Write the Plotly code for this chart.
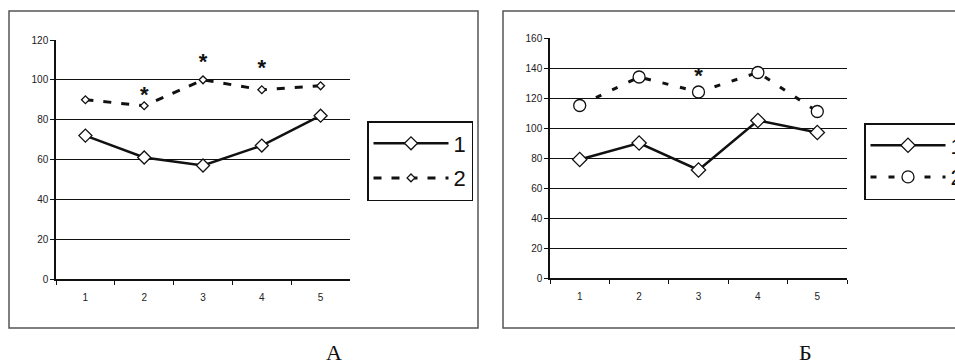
import plotly.graph_objects as go

categories = ["1", "2", "3", "4", "5"]

# Panel A
a_series1 = [72, 61, 57, 67, 82]
a_series2 = [90, 87, 100, 95, 97]
a_star_cats = ["2", "3", "4"]
a_star_vals = [91.5, 108, 105]

# Panel B
b_series1 = [79, 90, 72, 105, 97]
b_series2 = [115, 134, 124, 137, 111]
b_star_cats = ["3"]
b_star_vals = [134]

series_names = ["1", "2"]
panel_labels = ["А", "Б"]

W, H = 955, 360
def px(x):
    return x / W
def py(y):
    return 1 - y / H

fig = go.Figure()

black = "#111111"

# Panel A traces
fig.add_trace(go.Scatter(
    x=categories, y=a_series1, name=series_names[0], mode="lines+markers",
    line=dict(color=black, width=2.5),
    marker=dict(symbol="diamond", size=10, color="white", line=dict(color=black, width=1.3)),
    xaxis="x", yaxis="y", legend="legend", legendgroup="a1"))
fig.add_trace(go.Scatter(
    x=categories, y=a_series2, name=series_names[1], mode="lines+markers",
    line=dict(color=black, width=3, dash="8px,10px"),
    marker=dict(symbol="diamond", size=6, color="white", line=dict(color=black, width=1.3)),
    xaxis="x", yaxis="y", legend="legend", legendgroup="a2"))
fig.add_trace(go.Scatter(
    x=a_star_cats, y=a_star_vals, mode="text", text=["<b>*</b>"] * len(a_star_cats),
    textfont=dict(family="Liberation Sans", size=22, color=black),
    showlegend=False, xaxis="x", yaxis="y", hoverinfo="skip"))

# Panel B traces
fig.add_trace(go.Scatter(
    x=categories, y=b_series1, name=series_names[0], mode="lines+markers",
    line=dict(color=black, width=2.5),
    marker=dict(symbol="diamond", size=11, color="white", line=dict(color=black, width=1.3)),
    xaxis="x2", yaxis="y2", legend="legend2", legendgroup="b1"))
fig.add_trace(go.Scatter(
    x=categories, y=b_series2, name=series_names[1], mode="lines+markers",
    line=dict(color=black, width=3, dash="6px,12px"),
    marker=dict(symbol="circle", size=12, color="white", line=dict(color=black, width=1.3)),
    xaxis="x2", yaxis="y2", legend="legend2", legendgroup="b2"))
fig.add_trace(go.Scatter(
    x=b_star_cats, y=b_star_vals, mode="text", text=["<b>*</b>"] * len(b_star_cats),
    textfont=dict(family="Liberation Sans", size=22, color=black),
    showlegend=False, xaxis="x2", yaxis="y2", hoverinfo="skip"))

tickfont = dict(family="Liberation Sans", size=10, color="#222222")

def xaxis_cfg(x0, x1):
    return dict(
        domain=[px(x0), px(x1)], type="category", range=[-0.5, 4.5],
        tickson="boundaries", ticks="outside", ticklen=4, tickcolor=black,
        showgrid=False, showline=True, linecolor=black, linewidth=1.5,
        tickfont=tickfont, ticklabelstandoff=8, zeroline=False, fixedrange=True)

def yaxis_cfg(y_top, y_bot, ymax, anchor):
    return dict(
        domain=[py(y_bot), py(y_top)], range=[0, ymax], dtick=20,
        ticks="outside", ticklen=4, tickcolor=black,
        showgrid=True, gridcolor=black, gridwidth=1.2,
        showline=True, linecolor=black, linewidth=1.5,
        zeroline=False, tickfont=tickfont, anchor=anchor, fixedrange=True)

legend_font = dict(family="Liberation Sans", size=22, color=black)

fig.update_layout(
    width=W, height=H, margin=dict(l=0, r=0, t=0, b=0, autoexpand=False),
    paper_bgcolor="white", plot_bgcolor="white",
    xaxis=xaxis_cfg(56, 350) | dict(anchor="y"),
    yaxis=yaxis_cfg(40, 279, 120, "x"),
    xaxis2=xaxis_cfg(550, 847) | dict(anchor="y2"),
    yaxis2=yaxis_cfg(38, 278, 160, "x2"),
    legend=dict(x=px(367), y=py(121), xanchor="left", yanchor="top",
                bordercolor=black, borderwidth=1.5, font=legend_font,
                itemwidth=75, tracegroupgap=3, bgcolor="white"),
    legend2=dict(x=px(864), y=py(123), xanchor="left", yanchor="top",
                 bordercolor=black, borderwidth=1.5, font=legend_font,
                 itemwidth=75, tracegroupgap=0, bgcolor="white"),
    showlegend=True,
    shapes=[
        dict(type="rect", xref="paper", yref="paper", x0=px(9), x1=px(478), y0=py(328), y1=py(11),
             line=dict(color="#555555", width=1.5)),
        dict(type="rect", xref="paper", yref="paper", x0=px(503), x1=px(975), y0=py(328), y1=py(11),
             line=dict(color="#555555", width=1.5)),
    ],
    annotations=[
        dict(text=panel_labels[0], xref="paper", yref="paper", x=px(334), y=py(352),
             xanchor="center", yanchor="middle",
             showarrow=False, font=dict(family="Liberation Serif", size=22, color=black)),
        dict(text=panel_labels[1], xref="paper", yref="paper", x=px(805), y=py(352),
             xanchor="center", yanchor="middle",
             showarrow=False, font=dict(family="Liberation Serif", size=22, color=black)),
    ],
)

fig.write_html("out.html", config={"displayModeBar": False},
               post_script="document.body.style.margin='0';document.body.style.overflow='hidden';")
